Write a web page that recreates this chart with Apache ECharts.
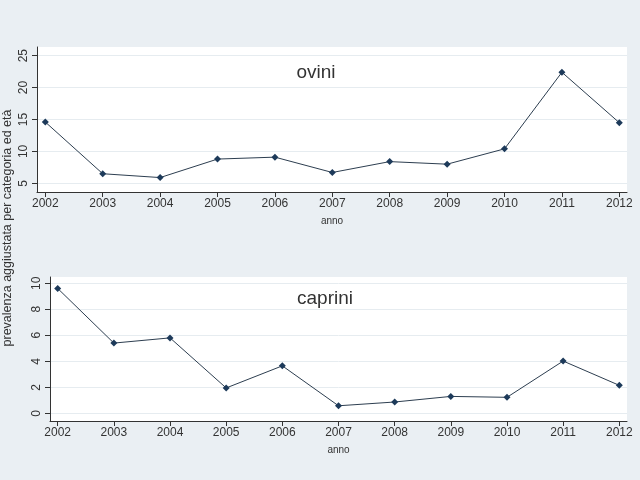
<!DOCTYPE html>
<html><head><meta charset="utf-8">
<script src="https://cdn.jsdelivr.net/npm/echarts@6/dist/echarts.min.js"></script>
<style>html,body{margin:0;padding:0;background:#eaeff3}#c{width:640px;height:480px}</style>
</head><body><div id="c"></div>
<script>
const years = [2002,2003,2004,2005,2006,2007,2008,2009,2010,2011,2012];
const ovini = [14.6,6.5,5.9,8.8,9.1,6.7,8.4,8.0,10.4,22.4,14.5];
const caprini = [9.6,5.4,5.8,1.95,3.65,0.58,0.87,1.3,1.23,4.02,2.15];
const oviniTicks = [5,10,15,20,25];
const capriniTicks = [0,2,4,6,8,10];
const titles = ['ovini','caprini'];
const yTitle = 'prevalenza aggiustata per categoria ed età';
const xTitle = 'anno';

const font = 'Liberation Sans, Arial, sans-serif';
const lineCol = '#2d3e50';
const markCol = '#1d3a5a';

function xAxis(idx){
  return {type:'value', gridIndex:idx, min: idx===0?2001.855:2001.863, max: idx===0?2012.134:2012.137,
    axisLine:{show:true,onZero:false,lineStyle:{color:'#333',width:1}},
    axisTick:{show:true,length:5,lineStyle:{color:'#333'},customValues:years},
    axisLabel:{customValues:years,color:'#333',fontFamily:font,fontSize:12,margin:6,formatter:v=>String(Math.round(v))},
    splitLine:{show:false},
    name:xTitle,nameLocation:'middle',nameGap:24,nameTextStyle:{color:'#333',fontFamily:font,fontSize:10}};
}
function yAxis(idx,ticks,min,max){
  return {type:'value', gridIndex:idx, min:min, max:max,
    axisLine:{show:true,lineStyle:{color:'#333',width:1}},
    axisTick:{show:true,length:5,lineStyle:{color:'#333'},customValues:ticks},
    axisLabel:{customValues:ticks,color:'#333',fontFamily:font,fontSize:12,rotate:90,margin:7},
    splitLine:{show:true,lineStyle:{color:'#e6ecf0',width:1}}};
}
const chart = echarts.init(document.getElementById('c'),null,{renderer:'canvas'});
chart.setOption({
  backgroundColor:'#eaeff3',
  animation:false,
  grid:[
    {left:37,right:13,top:47,bottom:288,show:true,backgroundColor:'#fff',borderWidth:0},
    {left:50,right:13,top:277,bottom:59,show:true,backgroundColor:'#fff',borderWidth:0}
  ],
  xAxis:[xAxis(0),xAxis(1)],
  yAxis:[yAxis(0,oviniTicks,3.64,26.36),yAxis(1,capriniTicks,-0.59,10.48)],
  graphic:[
    {type:'text',x:8,y:228,rotation:Math.PI/2,style:{text:yTitle,fill:'#333',font:'12.5px '+font,textAlign:'center',textVerticalAlign:'middle'}},
    {type:'text',x:316,y:73,style:{text:titles[0],fill:'#333',font:'19px '+font,textAlign:'center',textVerticalAlign:'middle'}},
    {type:'text',x:325,y:299,style:{text:titles[1],fill:'#333',font:'19px '+font,textAlign:'center',textVerticalAlign:'middle'}}
  ],
  series:[
    {type:'line',xAxisIndex:0,yAxisIndex:0,data:years.map((y,i)=>[y,ovini[i]]),symbol:'diamond',symbolSize:7,
     lineStyle:{color:lineCol,width:1},itemStyle:{color:markCol}},
    {type:'line',xAxisIndex:1,yAxisIndex:1,data:years.map((y,i)=>[y,caprini[i]]),symbol:'diamond',symbolSize:7,
     lineStyle:{color:lineCol,width:1},itemStyle:{color:markCol}}
  ]
});
</script></body></html>
